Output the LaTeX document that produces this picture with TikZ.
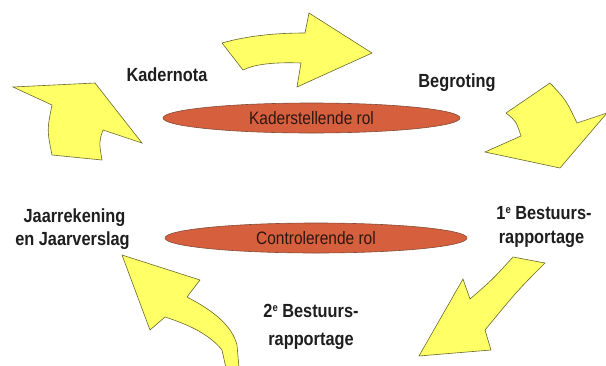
\documentclass[tikz,border=0pt]{standalone}
\usepackage{fontspec}
\setmainfont{Liberation Sans}[FakeStretch=0.86]
\usetikzlibrary{shapes.geometric}
\definecolor{arrowfill}{RGB}{255,255,102}
\definecolor{arrowline}{RGB}{105,105,45}
\definecolor{ellfill}{RGB}{214,96,62}
\definecolor{ellline}{RGB}{130,75,55}
\definecolor{ink}{RGB}{30,30,30}
\definecolor{ellink}{RGB}{45,22,15}
\newcommand{\supe}{\raisebox{0.55ex}{\fontsize{11}{11}\selectfont e}}
\tikzset{
  bigarrow/.style={fill=arrowfill, draw=arrowline, line width=0.6pt, line join=miter},
  rolebox/.style={ellipse, fill=ellfill, draw=ellline, line width=0.6pt, inner sep=0pt,
    text=ellink, font=\fontsize{18}{21}\selectfont},
  label/.style={anchor=base, inner sep=0pt, text=ink, font=\fontsize{19}{23}\selectfont\bfseries}
}
\begin{document}
\begin{tikzpicture}[x=1pt,y=-1pt]
\useasboundingbox (0,0) rectangle (606,365);
\begin{scope}
\clip (0,0) rectangle (606,365);
% arrow 1: Jaarrekening -> Kadernota
\draw[bigarrow] (13,87) -- (95,83) -- (142,143) -- (103,130)
  .. controls (99,142) .. (102,160) -- (52,155)
  .. controls (47,130) .. (52,105) -- cycle;
% arrow 2: Kadernota -> Begroting
\draw[bigarrow] (222,43) .. controls (250,35) and (280,33) .. (305,33)
  -- (309,13) -- (372,53) -- (297,87) -- (301,63)
  .. controls (275,62) and (255,64) .. (243,70) -- cycle;
% arrow 3: Begroting -> 1e bestuursrapportage
\draw[bigarrow] (550,83) .. controls (566,100) .. (577,123) -- (607,113)
  -- (560,168) -- (485,152) -- (521,136)
  .. controls (516,121) .. (506,113) -- cycle;
% arrow 4: 1e -> 2e bestuursrapportage
\draw[bigarrow] (513,257) -- (545,263) .. controls (518,290) .. (485,330)
  -- (491,350) -- (419,356) -- (463,279) -- (470,299)
  .. controls (492,280) .. (513,257) -- cycle;
% arrow 5: 2e -> Jaarrekening
\draw[bigarrow] (122,255) -- (200,280) -- (187,297)
  .. controls (212,310) and (232,325) .. (237,345) -- (239,368) -- (226,368)
  -- (222,350) .. controls (210,335) and (190,325) .. (165,317) -- (150,330) -- cycle;
\end{scope}
% role ellipses
\node[rolebox, minimum width=297pt, minimum height=30pt] (kader) at (311.5,118) {Kaderstellende rol};
\node[rolebox, minimum width=302pt, minimum height=30pt] (controle) at (316,238) {Controlerende rol};
% labels
\node[label] (kadernota) at (167,81) {Kadernota};
\node[label] (begroting) at (457,87) {Begroting};
\node[label] (jaar1) at (74.5,222) {Jaarrekening};
\node[label] (jaar2) at (72.5,245) {en Jaarverslag};
\node[label] (br1a) at (544,219) {1\supe\ Bestuurs-};
\node[label] (br1b) at (541.5,243) {rapportage};
\node[label] (br2a) at (311,317) {2\supe\ Bestuurs-};
\node[label] (br2b) at (311,345) {rapportage};
\end{tikzpicture}
\end{document}
